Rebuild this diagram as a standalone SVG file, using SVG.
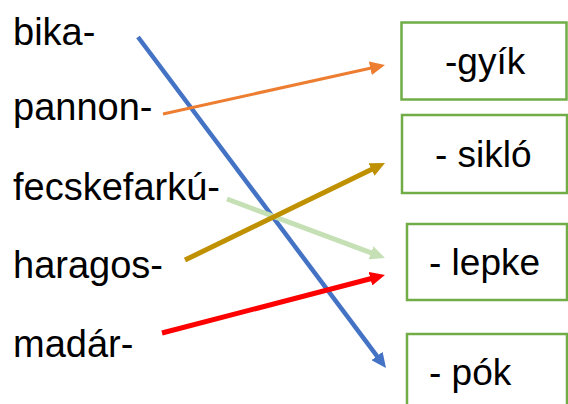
<svg xmlns="http://www.w3.org/2000/svg" width="568" height="404" viewBox="0 0 568 404">
<style>
text { font-family: "Liberation Sans", Arial, sans-serif; font-size: 37px; fill: #000; }
.lbl { font-size: 38px; }
.box { fill: #fff; stroke: #70AD47; stroke-width: 2.5; }
.ln { fill: none; }
</style>
<defs>
<marker id="hBlue" markerUnits="userSpaceOnUse" markerWidth="16" markerHeight="14" refX="1" refY="7" orient="auto"><path d="M0,0 L15,7 L0,14 z" fill="#4472C4"/></marker>
<marker id="hOrange" markerUnits="userSpaceOnUse" markerWidth="16" markerHeight="14" refX="1" refY="7" orient="auto"><path d="M0,0 L15,7 L0,14 z" fill="#ED7D31"/></marker>
<marker id="hGold" markerUnits="userSpaceOnUse" markerWidth="16" markerHeight="14" refX="1" refY="7" orient="auto"><path d="M0,0 L15,7 L0,14 z" fill="#BF9000"/></marker>
<marker id="hGreen" markerUnits="userSpaceOnUse" markerWidth="16" markerHeight="14" refX="1" refY="7" orient="auto"><path d="M0,0 L15,7 L0,14 z" fill="#C5E0B4"/></marker>
<marker id="hRed" markerUnits="userSpaceOnUse" markerWidth="16" markerHeight="14" refX="1" refY="7" orient="auto"><path d="M0,0 L15,7 L0,14 z" fill="#FF0000"/></marker>
</defs>

<g id="left-bika"><text class="lbl" x="13" y="45">bika-</text></g>
<g id="left-pannon"><text class="lbl" x="13" y="120">pannon-</text></g>
<g id="left-fecskefarku"><text class="lbl" x="13" y="200">fecskefarkú-</text></g>
<g id="left-haragos"><text class="lbl" x="13" y="278">haragos-</text></g>
<g id="left-madar"><text class="lbl" x="13" y="357">madár-</text></g>

<g id="box-gyik"><rect class="box" x="401.5" y="22.5" width="165" height="77"/><text x="445" y="74">-gyík</text></g>
<g id="box-siklo"><rect class="box" x="402" y="115" width="165" height="78"/><text x="435" y="167">- sikló</text></g>
<g id="box-lepke"><rect class="box" x="407" y="224" width="160" height="76"/><text x="429" y="275">- lepke</text></g>
<g id="box-pok"><rect class="box" x="407" y="334" width="160" height="82"/><text x="429" y="385">- pók</text></g>

<g id="connectors">
<line class="ln" x1="138" y1="37" x2="377.6" y2="356.8" stroke="#4472C4" stroke-width="4.5" marker-end="url(#hBlue)"/>
<line class="ln" x1="227" y1="199" x2="371.9" y2="253.1" stroke="#C5E0B4" stroke-width="5" marker-end="url(#hGreen)"/>
<line class="ln" x1="163" y1="114" x2="371.3" y2="68" stroke="#ED7D31" stroke-width="3" marker-end="url(#hOrange)"/>
<line class="ln" x1="185" y1="260" x2="372.4" y2="169.1" stroke="#BF9000" stroke-width="5" marker-end="url(#hGold)"/>
<line class="ln" x1="162" y1="333" x2="371.4" y2="278.5" stroke="#FF0000" stroke-width="5" marker-end="url(#hRed)"/>
</g>
</svg>
